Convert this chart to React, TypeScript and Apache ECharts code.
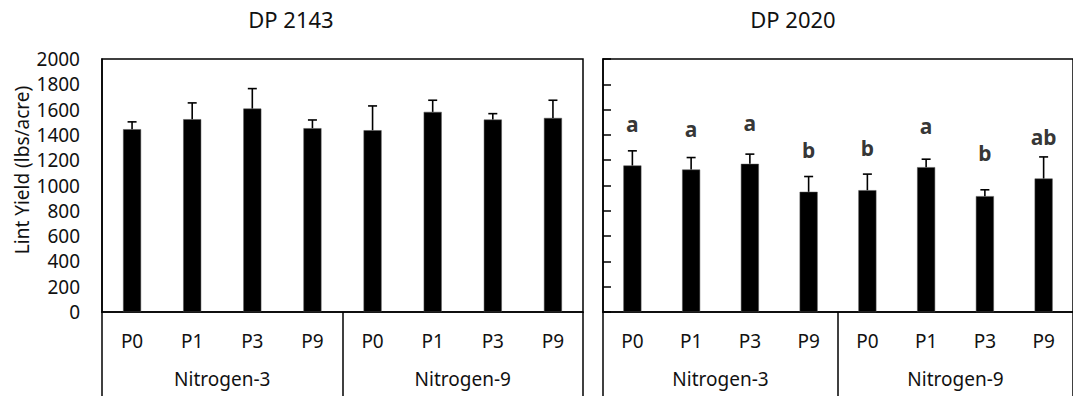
import React, { useEffect, useRef } from "react";
import * as echarts from "echarts";

const categories = ["P0", "P1", "P3", "P9", "P0", "P1", "P3", "P9"];
const groups = ["Nitrogen-3", "Nitrogen-9"];
const titles = ["DP 2143", "DP 2020"];
const yTitle = "Lint Yield (lbs/acre)";

const dp2143Yield = [1445, 1524, 1608, 1453, 1437, 1582, 1521, 1534];
const dp2143Err = [58, 129, 158, 65, 192, 92, 47, 140];
const dp2020Yield = [1158, 1126, 1171, 950, 963, 1145, 916, 1055];
const dp2020Err = [116, 95, 77, 121, 127, 63, 50, 171];
const dp2020Letters = ["a", "a", "a", "b", "b", "a", "b", "ab"];
const dp2020LetterPos = [1487, 1447, 1496, 1282, 1297, 1471, 1258, 1384];

const yMin = 0;
const yMax = 2000;
const yInterval = 200;

const FONT = "'Noto Sans', sans-serif";
const LINE = "#000";
const TEXT = "#111";

export default function App() {
  const ref = useRef<HTMLDivElement>(null);

  useEffect(() => {
    if (!ref.current) return;
    const chart = echarts.init(ref.current, null, { renderer: "svg" });

    const grids = [
      { left: 102, top: 59, width: 481, height: 253 },
      { left: 603, top: 59, width: 480, height: 253 },
    ];

    const xAxes: any[] = [];
    const yAxes: any[] = [];
    [0, 1].forEach((g) => {
      xAxes.push({
        type: "category",
        gridIndex: g,
        data: categories,
        axisLine: { show: true, lineStyle: { color: LINE, width: 1.5 } },
        axisTick: { show: false },
        axisLabel: { fontSize: 19, fontFamily: FONT, color: TEXT, margin: 19 },
        splitLine: { show: false },
      });
      xAxes.push({
        type: "category",
        gridIndex: g,
        position: "bottom",
        data: groups,
        axisLine: { show: false },
        axisTick: { show: true, length: 90, lineStyle: { color: LINE, width: 1.5 } },
        axisLabel: { fontSize: 19, fontFamily: FONT, color: TEXT, margin: 57 },
        splitLine: { show: false },
      });
      yAxes.push({
        type: "value",
        gridIndex: g,
        min: yMin,
        max: yMax,
        interval: yInterval,
        axisLine: { show: true, lineStyle: { color: LINE, width: 1.5 } },
        axisTick: g === 1 ? { show: true, inside: true, length: 8, lineStyle: { color: LINE, width: 1.5 } } : { show: false },
        axisLabel:
          g === 0
            ? { fontSize: 19, fontFamily: FONT, color: TEXT, margin: 22, formatter: (v: number) => String(v) }
            : { show: false },
        splitLine: { show: false },
      });
    });

    const errRender = (params: any, api: any) => {
      const i = api.value(0);
      const v = api.value(1);
      const e = api.value(2);
      const base = api.coord([i, v]);
      const top = api.coord([i, v + e]);
      const style = { stroke: LINE, lineWidth: 1.6 };
      return {
        type: "group",
        children: [
          { type: "line", shape: { x1: top[0], y1: base[1], x2: top[0], y2: top[1] }, style },
          { type: "line", shape: { x1: top[0] - 4.5, y1: top[1], x2: top[0] + 4.5, y2: top[1] }, style },
        ],
      };
    };

    const barSeries = (vals: number[], xi: number, yi: number) => ({
      type: "bar",
      xAxisIndex: xi,
      yAxisIndex: yi,
      data: vals,
      barWidth: 18,
      itemStyle: { color: "#000", borderColor: "#555", borderWidth: 0.5 },
    });
    const errSeries = (vals: number[], errs: number[], xi: number, yi: number) => ({
      type: "custom",
      xAxisIndex: xi,
      yAxisIndex: yi,
      renderItem: errRender,
      encode: { x: 0, y: 1 },
      data: vals.map((v, i) => [i, v, errs[i]]),
      z: 3,
    });

    chart.setOption({
      animation: false,
      grid: grids.map((g) => ({ ...g, show: true, borderColor: LINE, borderWidth: 1.5, containLabel: false })),
      xAxis: xAxes,
      yAxis: yAxes,
      series: [
        barSeries(dp2143Yield, 0, 0),
        errSeries(dp2143Yield, dp2143Err, 0, 0),
        barSeries(dp2020Yield, 2, 1),
        errSeries(dp2020Yield, dp2020Err, 2, 1),
        {
          type: "scatter",
          xAxisIndex: 2,
          yAxisIndex: 1,
          symbolSize: 1,
          itemStyle: { color: "rgba(0,0,0,0)" },
          data: dp2020LetterPos.map((p, i) => [i, p]),
          label: {
            show: true,
            position: "inside",
            formatter: (p: any) => dp2020Letters[p.dataIndex],
            fontSize: 21,
            fontWeight: "bold",
            fontFamily: FONT,
            color: "#000",
          },
          z: 4,
        },
      ],
      graphic: [
        {
          type: "text",
          x: 291,
          y: 19,
          style: { text: titles[0], fontSize: 22, fontFamily: FONT, fill: TEXT, align: "center", verticalAlign: "middle" },
        },
        {
          type: "text",
          x: 793,
          y: 19,
          style: { text: titles[1], fontSize: 22, fontFamily: FONT, fill: TEXT, align: "center", verticalAlign: "middle" },
        },
        {
          type: "text",
          x: 22,
          y: 170,
          rotation: Math.PI / 2,
          style: { text: yTitle, fontSize: 19, fontFamily: FONT, fill: TEXT, align: "center", verticalAlign: "middle" },
        },
      ],
    });

    return () => chart.dispose();
  }, []);

  return (
    <div
      ref={ref}
      style={{ position: "absolute", left: 0, top: 0, width: 1073, height: 396, background: "#fff" }}
    />
  );
}
